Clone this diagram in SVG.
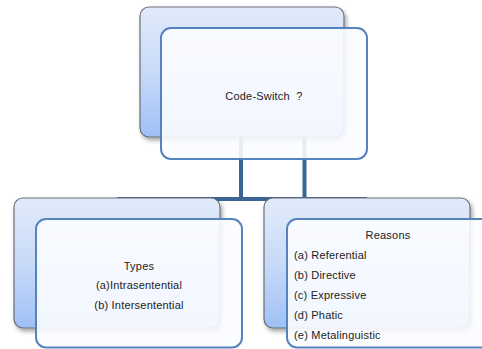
<svg xmlns="http://www.w3.org/2000/svg" width="482" height="349" viewBox="0 0 482 349">
  <defs>
    <linearGradient id="backFill" x1="0" y1="0" x2="0" y2="1">
      <stop offset="0" stop-color="#e2ebfb"/>
      <stop offset="0.5" stop-color="#c8daf8"/>
      <stop offset="1" stop-color="#9fc0f6"/>
    </linearGradient>
    <filter id="shadow" x="-10%" y="-10%" width="125%" height="130%">
      <feDropShadow dx="2" dy="3" stdDeviation="2" flood-color="#000" flood-opacity="0.35"/>
    </filter>
  </defs>
  <style>
    .back { fill: url(#backFill); stroke: #6b6f76; stroke-width: 1.2; filter: url(#shadow); }
    .front { fill: #fbfcff; fill-opacity: 0.9; stroke: #5583be; stroke-width: 2; }
    .link { fill: none; stroke: #3b6595; stroke-width: 4; }
    text { font-family: "Liberation Sans", Arial, sans-serif; font-size: 11px; letter-spacing: 0.2px; fill: #222; }
    .mid { text-anchor: middle; }
    .pre { white-space: pre; }
  </style>

  <rect width="482" height="349" fill="#fff"/>

  <!-- connectors: parent down to the shared bar -->
  <g id="connectors">
    <path class="link" d="M241 137 V199 M304.5 137 V199 M117 199 H367"/>
  </g>

  <!-- root node -->
  <g id="root">
    <rect class="back" x="140" y="7" width="204" height="130" rx="9"/>
    <rect class="front" x="161" y="28" width="206" height="131" rx="10"/>
    <text class="mid pre" x="264" y="100" xml:space="preserve">Code-Switch  ?</text>
  </g>

  <!-- left child: types -->
  <g id="types">
    <rect class="back" x="14" y="198" width="206" height="130" rx="9"/>
    <rect class="front" x="36" y="219" width="206" height="128.5" rx="10"/>
    <text class="mid" x="139" y="269.5">Types</text>
    <text class="mid" x="139" y="289">(a)Intrasentential</text>
    <text class="mid" x="139" y="308.5">(b) Intersentential</text>
  </g>

  <!-- right child: reasons -->
  <g id="reasons">
    <rect class="back" x="264" y="198" width="206" height="130" rx="9"/>
    <rect class="front" x="287" y="219" width="206" height="128.5" rx="10"/>
    <text class="mid" x="388" y="238.5">Reasons</text>
    <text x="294" y="258.5">(a) Referential</text>
    <text x="294" y="278.5">(b) Directive</text>
    <text x="294" y="298.5">(c) Expressive</text>
    <text x="294" y="318.5">(d) Phatic</text>
    <text x="294" y="338.5">(e) Metalinguistic</text>
  </g>
</svg>
